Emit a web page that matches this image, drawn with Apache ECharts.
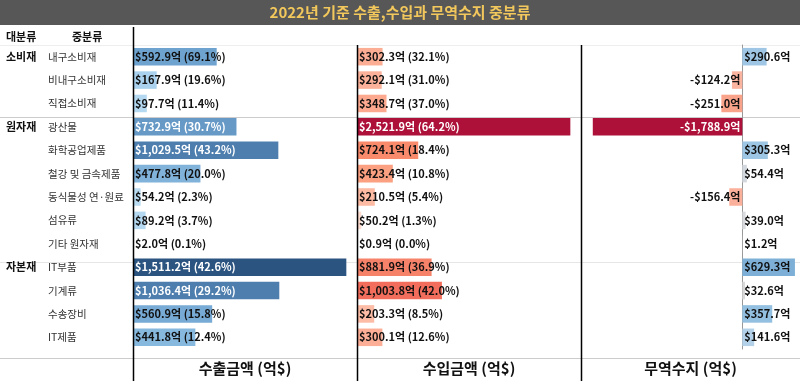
<!DOCTYPE html>
<html>
<head>
<meta charset="utf-8">
<script src="https://cdn.jsdelivr.net/npm/echarts@6/dist/echarts.min.js"></script>
<style>html,body{margin:0;padding:0;background:#fff}#c{width:800px;height:381px}</style>
</head>
<body>
<div id="c"></div>
<script>
// ---- data ----
const title = '2022년 기준 수출,수입과 무역수지 중분류';
const headerMajor = '대분류';
const headerMid = '중분류';
const majors = ['소비재','','','원자재','','','','','','자본재','','',''];
const categories = ['내구소비재','비내구소비재','직접소비재','광산물','화학공업제품','철강 및 금속제품','동식물성 연·원료','섬유류','기타 원자재','IT부품','기계류','수송장비','IT제품'];
const exportVals = [592.9,167.9,97.7,732.9,1029.5,477.8,54.2,89.2,2.0,1511.2,1036.4,560.9,441.8];
const exportPct  = [69.1,19.6,11.4,30.7,43.2,20.0,2.3,3.7,0.1,42.6,29.2,15.8,12.4];
const importVals = [302.3,292.1,348.7,2521.9,724.1,423.4,210.5,50.2,0.9,881.9,1003.8,203.3,300.1];
const importPct  = [32.1,31.0,37.0,64.2,18.4,10.8,5.4,1.3,0.0,36.9,42.0,8.5,12.6];
const balanceVals = [290.6,-124.2,-251.0,-1788.9,305.3,54.4,-156.4,39.0,1.2,629.3,32.6,357.7,141.6];
const axisTitles = ['수출금액 (억$)','수입금액 (억$)','무역수지 (억$)'];

// ---- styles ----
const exportColors = ['#6EA3CF','#AAD2EE','#B3D8F0','#6699C6','#4E7EAE','#80B2DA','#BADCF2','#B4D8F0','#DDECF8','#2B5580','#4E7EAE','#77AAD5','#87B8DE'];
const importColors = ['#FCAE95','#FCB29A','#FCA98F','#AD1038','#F98A6C','#FBA080','#FDBBA4','#FEDDD0','#FFF0EA','#F7826A','#F26D5B','#FDBCA5','#FCAF96'];
const balanceColors = ['#9FC7E5','#FBB4A0','#FAA38B','#AD1038','#9DC6E4','#D3D8DF','#FBB09B','#D8DADD','#E8E8E8','#7DAFD7','#D9D9D9','#93BFE0','#B3D2E9'];

const FONT = '"Noto Sans CJK KR","Noto Sans",sans-serif';
const G = {top:45, h:313};
const fmt = v => v.toLocaleString('en-US',{minimumFractionDigits:1,maximumFractionDigits:1});
function isDark(hex){
  const r=parseInt(hex.slice(1,3),16),g=parseInt(hex.slice(3,5),16),b=parseInt(hex.slice(5,7),16);
  return (Math.max(r,g,b)+Math.min(r,g,b))/2 < 154;
}
function items(vals, colors, labelFn, posFn){
  return vals.map((v,i)=>({
    value:v,
    itemStyle:{color:colors[i]},
    label:{show:true, position:posFn(v), distance:2, formatter:labelFn(v,i),
      color:isDark(colors[i])?'#ffffff':'#111111', textBorderWidth:0, textBorderColor:'transparent',
      fontFamily:FONT, fontSize:11, fontWeight:'bold'}
  }));
}

const chart = echarts.init(document.getElementById('c'), null, {renderer:'canvas'});
const rh = G.h/13;
const lines = [];
function hline(y,color){lines.push({type:'line',shape:{x1:0,y1:y,x2:800,y2:y},style:{stroke:color,lineWidth:1},z:-1,silent:true});}
hline(G.top+0.5,'#eeeeee');
hline(Math.round(G.top+3*rh)+0.5,'#cccccc');
hline(Math.round(G.top+9*rh)+0.5,'#e6e6e6');
hline(G.top+G.h+0.5,'#cccccc');
function vline(x,y1){lines.push({type:'line',shape:{x1:x,y1:y1,x2:x,y2:381},style:{stroke:'#000',lineWidth:1.5},z:6});}
vline(133.5,27); vline(357.5,G.top); vline(581.5,G.top);

const yBase = {type:'category', inverse:true, data:categories, position:'left', axisTick:{show:false}, axisLine:{show:false}, splitLine:{show:false}};
const xName = (i)=>({name:axisTitles[i], nameLocation:'middle', nameGap:12,
  nameTextStyle:{fontFamily:FONT,fontSize:15,fontWeight:'bold',color:'#111'},
  axisLabel:{show:false}, axisTick:{show:false}, axisLine:{show:false}, splitLine:{show:false}});

chart.setOption({
  animation:false,
  grid:[
    {left:133, width:224, top:G.top, height:G.h},
    {left:357, width:224, top:G.top, height:G.h},
    {left:581, width:219, top:G.top, height:G.h}
  ],
  xAxis:[
    Object.assign({type:'value', gridIndex:0, min:0, max:Math.max(...exportVals)*1.05}, xName(0)),
    Object.assign({type:'value', gridIndex:1, min:0, max:Math.max(...importVals)*1.05}, xName(1)),
    Object.assign({type:'value', gridIndex:2, min:-1930, max:690}, xName(2))
  ],
  yAxis:[
    Object.assign({}, yBase, {gridIndex:0, axisLabel:{align:'left', margin:85, color:'#333', fontFamily:FONT, fontSize:10.5}}),
    Object.assign({}, yBase, {gridIndex:0, offset:0, axisLabel:{align:'left', margin:127, color:'#111', fontFamily:FONT, fontSize:11, fontWeight:'bold',
       formatter:(v,i)=>majors[i]}}),
    Object.assign({}, yBase, {gridIndex:1, axisLabel:{show:false}}),
    Object.assign({}, yBase, {gridIndex:2, axisLabel:{show:false}, axisLine:{show:true, onZero:true, lineStyle:{color:'#999', width:1}}})
  ],
  series:[
    {type:'bar', xAxisIndex:0, yAxisIndex:0, barWidth:'75%',
     data:items(exportVals, exportColors, (v,i)=>'$'+fmt(v)+'억 ('+exportPct[i].toFixed(1)+'%)', ()=> 'insideLeft')},
    {type:'bar', xAxisIndex:1, yAxisIndex:2, barWidth:'75%',
     data:items(importVals, importColors, (v,i)=>'$'+fmt(v)+'억 ('+importPct[i].toFixed(1)+'%)', ()=> 'insideLeft')},
    {type:'bar', xAxisIndex:2, yAxisIndex:3, barWidth:'75%',
     data:items(balanceVals, balanceColors, (v)=>(v<0?'-$':'$')+fmt(Math.abs(v))+'억', (v)=> v<0?'insideRight':'insideLeft')}
  ],
  graphic:[
    {type:'rect', shape:{x:0,y:0,width:800,height:25}, style:{fill:'#575757'}, z:1},
    {type:'text', x:400, y:12.5, style:{text:title, fill:'#F2C75C', font:'bold 15px '+FONT, textAlign:'center', textVerticalAlign:'middle'}, z:2},
    {type:'text', x:6, y:37, style:{text:headerMajor, fill:'#111', font:'bold 11px '+FONT, textAlign:'left', textVerticalAlign:'middle'}, z:2},
    {type:'text', x:72, y:37, style:{text:headerMid, fill:'#111', font:'bold 11px '+FONT, textAlign:'left', textVerticalAlign:'middle'}, z:2}
  ].concat(lines)
});
</script>
</body>
</html>
